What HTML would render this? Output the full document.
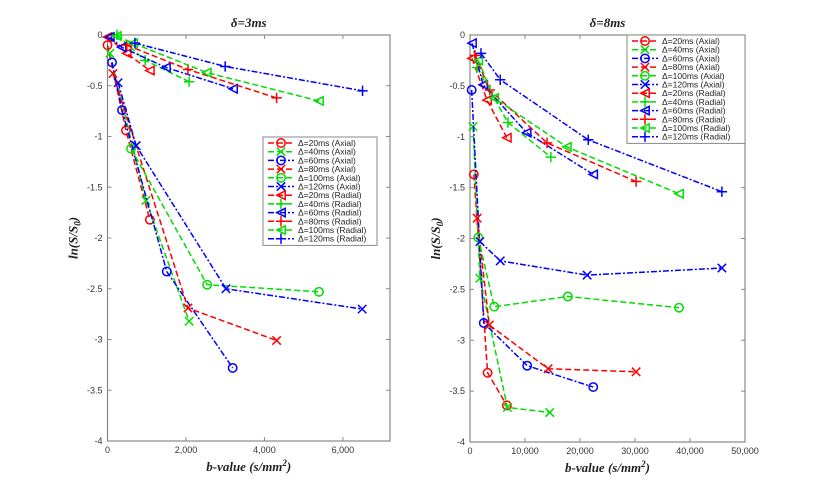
<!DOCTYPE html>
<html><head><meta charset="utf-8"><style>
body{margin:0;background:#fff;}
svg{display:block;font-family:"Liberation Sans",sans-serif;}
.tl{font-size:9px;fill:#333;}
.ttl{font-family:"Liberation Serif",serif;font-weight:bold;font-style:italic;font-size:13px;fill:#222;}
.lg{font-size:8.5px;fill:#222;}
</style></head><body>
<svg id="c" width="824" height="499" xmlns="http://www.w3.org/2000/svg"></svg>
<script>
const seriesNames = ["Δ=20ms (Axial)","Δ=40ms (Axial)","Δ=60ms (Axial)","Δ=80ms (Axial)","Δ=100ms (Axial)","Δ=120ms (Axial)","Δ=20ms (Radial)","Δ=40ms (Radial)","Δ=60ms (Radial)","Δ=80ms (Radial)","Δ=100ms (Radial)","Δ=120ms (Radial)"];
const colors = ["#f00","#0d0","#00f","#f00","#0d0","#00f","#f00","#0d0","#00f","#f00","#0d0","#00f"];
const markers = ["o","x","o","x","o","x","<","+","<","+","<","+"];
// delta = 3ms
const leftB = [[0,470,1080],[60,980,2080],[115,370,1510,3190],[140,2050,4310],[600,2540,5390],[270,730,3020,6490],
  [0,490,1080],[240,960,2080],[60,360,1490,3200],[490,2050,4310],[240,650,2530,5390],[700,3000,6500]];
const leftV = [[-0.1,-0.94,-1.82],[-0.18,-1.63,-2.82],[-0.27,-0.74,-2.33,-3.28],[-0.38,-2.69,-3.01],[-1.12,-2.46,-2.53],[-0.47,-1.09,-2.5,-2.7],
  [-0.02,-0.18,-0.35],[0,-0.25,-0.46],[-0.02,-0.12,-0.32,-0.53],[-0.1,-0.34,-0.62],[-0.01,-0.08,-0.37,-0.65],[-0.08,-0.31,-0.55]];
// delta = 8ms
const rightB = [[700,3200,6700],[550,1800,6800,14500],[300,2500,10400,22400],[1300,3500,14200,30200],[1500,4400,17800,38000],[1800,5500,21300,45800],
  [360,3100,6700],[1270,6900,14700],[360,2400,10300,22400],[900,3600,14000,30200],[1500,4400,17600,38000],[2000,5500,21500,45800]];
const rightV = [[-1.37,-3.32,-3.64],[-0.9,-2.39,-3.66,-3.71],[-0.54,-2.83,-3.25,-3.46],[-1.8,-2.85,-3.28,-3.31],[-1.99,-2.67,-2.57,-2.68],[-2.03,-2.22,-2.36,-2.29],
  [-0.23,-0.64,-1.01],[-0.32,-0.86,-1.2],[-0.08,-0.49,-0.96,-1.37],[-0.2,-0.54,-1.06,-1.44],[-0.25,-0.62,-1.1,-1.56],[-0.18,-0.44,-1.03,-1.54]];
const yTicks = [0,-0.5,-1,-1.5,-2,-2.5,-3,-3.5,-4];
const yTickLabels = ["0","-0.5","-1","-1.5","-2","-2.5","-3","-3.5","-4"];
const leftXTicks = [0,2000,4000,6000];
const leftXLabels = ["0","2,000","4,000","6,000"];
const rightXTicks = [0,10000,20000,30000,40000,50000];
const rightXLabels = ["0","10,000","20,000","30,000","40,000","50,000"];

const NS="http://www.w3.org/2000/svg";
const svg=document.getElementById('c');
function mk(tag,attrs,parent){const e=document.createElementNS(NS,tag);for(const k in attrs)e.setAttribute(k,attrs[k]);(parent||svg).appendChild(e);return e;}

function marker(g,m,x,y,c){
  const s=4.2;
  if(m==="o"){mk('circle',{cx:x,cy:y,r:s,fill:'none',stroke:c,'stroke-width':1.5},g);}
  else if(m==="x"){mk('path',{d:`M${x-s} ${y-s}L${x+s} ${y+s}M${x-s} ${y+s}L${x+s} ${y-s}`,stroke:c,'stroke-width':1.5},g);}
  else if(m==="+"){mk('path',{d:`M${x-s-1} ${y}L${x+s+1} ${y}M${x} ${y-s-1}L${x} ${y+s+1}`,stroke:c,'stroke-width':1.5},g);}
  else {mk('path',{d:`M${x-s} ${y}L${x+s} ${y-s}L${x+s} ${y+s}Z`,fill:'none',stroke:c,'stroke-width':1.5},g);}
}

function panel(name,x0,x1,y0,y1,xmax,xTicks,xLabels,B,V,title,legX,legY,legW){
  const g=mk('g',{});
  
  
  const sx=b=>x0+(b/xmax)*(x1-x0);
  const sy=v=>y0+(-v/4)*(y1-y0);
  mk('rect',{x:x0,y:y0,width:x1-x0,height:y1-y0,fill:'#fff',stroke:'#888','stroke-width':1.2},g);
  yTicks.forEach((t,i)=>{
    const y=sy(t);
    mk('line',{x1:x0,x2:x0+4,y1:y,y2:y,stroke:'#888'},g);
    mk('line',{x1:x1,x2:x1-4,y1:y,y2:y,stroke:'#888'},g);
    const tx=mk('text',{x:x0-5,y:y+3,'text-anchor':'end',class:'tl'},g);tx.textContent=yTickLabels[i];
    
    
  });
  xTicks.forEach((t,i)=>{
    const x=sx(t);
    mk('line',{x1:x,x2:x,y1:y1,y2:y1-4,stroke:'#888'},g);
    mk('line',{x1:x,x2:x,y1:y0,y2:y0+4,stroke:'#888'},g);
    const tx=mk('text',{x:x,y:y1+12,'text-anchor':'middle',class:'tl'},g);tx.textContent=xLabels[i];
    
    
  });
  const tt=mk('text',{x:(x0+x1)/2,y:y0-8,'text-anchor':'middle',class:'ttl'},g);tt.textContent=title;
  
  
  const xt=mk('text',{x:(x0+x1)/2,y:y1+30,'text-anchor':'middle',class:'ttl'},g);
  xt.innerHTML='b-value (s/mm<tspan dy="-5" font-size="9">2</tspan><tspan dy="5">)</tspan>';
  
  
  const yt=mk('text',{x:0,y:0,'text-anchor':'middle',class:'ttl',transform:`translate(${x0-30},${(y0+y1)/2}) rotate(-90)`},g);
  yt.innerHTML='ln(S/S<tspan dy="3" font-size="9">0</tspan><tspan dy="-3">)</tspan>';
  
  
  B.forEach((bs,i)=>{
    const c=colors[i];
    const sg=mk('g',{},g);
    
    
    const pts=bs.map((b,j)=>sx(b)+','+sy(V[i][j])).join(' ');
    const dash = c==="#00f" ? "6,2,2,2" : "6,3";
    mk('polyline',{points:pts,fill:'none',stroke:c,'stroke-width':1.5,'stroke-dasharray':dash},sg);
    bs.forEach((b,j)=>marker(sg,markers[i],sx(b),sy(V[i][j]),c));
  });
  // legend
  const lg=mk('g',{},g);
  
  
  const rowH=8.7;
  mk('rect',{x:legX,y:legY,width:legW,height:seriesNames.length*rowH+4,fill:'#fff',stroke:'#888','stroke-width':1},lg);
  seriesNames.forEach((n,i)=>{
    const y=legY+6+i*rowH;
    const e=mk('g',{},lg);
    
    
    const dash = colors[i]==="#00f" ? "6,2,2,2" : "6,3";
    mk('line',{x1:legX+5,x2:legX+31,y1:y,y2:y,stroke:colors[i],'stroke-width':1.5,'stroke-dasharray':dash},e);
    marker(e,markers[i],legX+18,y,colors[i]);
    const t=mk('text',{x:legX+35,y:y+3,class:'lg'},e);t.textContent=n;
  });
}
panel('left-panel',107.5,390,35,441,7200,leftXTicks,leftXLabels,leftB,leftV,'δ=3ms',263,137,114);
panel('right-panel',470,745,35,442,50000,rightXTicks,rightXLabels,rightB,rightV,'δ=8ms',627,35,118);
</script>
</body></html>
